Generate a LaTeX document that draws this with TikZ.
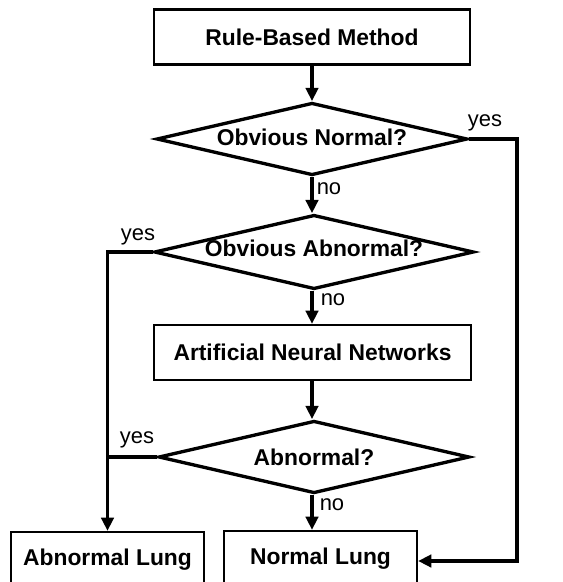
\documentclass[tikz,border=0pt]{standalone}
\usepackage{fontspec}
\setmainfont{Liberation Sans}
\usetikzlibrary{shapes.geometric,arrows.meta}
\tikzset{ box/.style = { rectangle % process
, draw
, line width = 1.3pt
, minimum height = 1.1cm
, inner sep = 0pt
, font = \fontsize{13}{15}\selectfont\bfseries
}
, test/.style = { diamond % decision
, draw
, line width = 1.9pt
, aspect = 4.3
, minimum width = 6.22cm
, minimum height = 1.45cm
, inner sep = 0pt
, font = \fontsize{13}{15}\selectfont\bfseries
}
, ans/.style = { inner sep = 0pt % yes / no
, font = \fontsize{12.5}{14}\selectfont
}
}

\begin{document}
\begin{tikzpicture}[x=0.02cm, y=-0.02cm,
        flow_style/.style={draw=black, line width=1.9pt, -{Triangle[length=7.5pt,width=7pt]}},
        join_style/.style={draw=black, line width=1.9pt}]
    \useasboundingbox (0,0) rectangle (563,582);
    \clip (0,0) rectangle (563,582);

            \node [box, minimum width=6.32cm](rbm) at (312,37) {Rule-Based Method};
            \node [test](obn) at (312,139) {\raisebox{2pt}{Obvious Normal?}};
            \node [test](oba) at (314,252) {\raisebox{4pt}{Obvious Abnormal?}};
            \node [box, minimum width=6.34cm](ann) at (312.5,352.5) {Artificial Neural Networks};
            \node [test](abn) at (314,457) {Abnormal?};
            \node [box, minimum width=3.86cm, minimum height=1.2cm](abl) at (107.5,562) {\raisebox{5pt}{Abnormal Lung}};
            \node [box, minimum width=3.86cm, minimum height=1.2cm](nl) at (320.5,561) {\raisebox{5pt}{Normal Lung}};

            \node [ans](y1) at (485,123) {yes};
            \node [ans](n1) at (329,189) {no};
            \node [ans](y2) at (138,237) {yes};
            \node [ans](n2) at (333,300) {no};
            \node [ans](y3) at (137,440) {yes};
            \node [ans](n3) at (332,505) {no};

            \coordinate (rgt) at (517,139);
            \draw [flow_style] (rbm.south) -- (obn.north);
            \draw [flow_style] (obn.south) -- (oba.north -| obn.south);
            \draw [flow_style] (oba.south -| obn.south) -- (ann.north -| obn.south);
            \draw [flow_style] (ann.south -| obn.south) -- (abn.north -| obn.south);
            \draw [flow_style] (abn.south -| obn.south) -- (nl.north -| obn.south);
            \draw [flow_style] (obn.east) -- (rgt) |- (nl.east);
            \draw [flow_style] (oba.west) -| (abl.north);
            \draw [join_style] (abn.west) -- (abn.west -| abl.north);

\end{tikzpicture}
\end{document}
